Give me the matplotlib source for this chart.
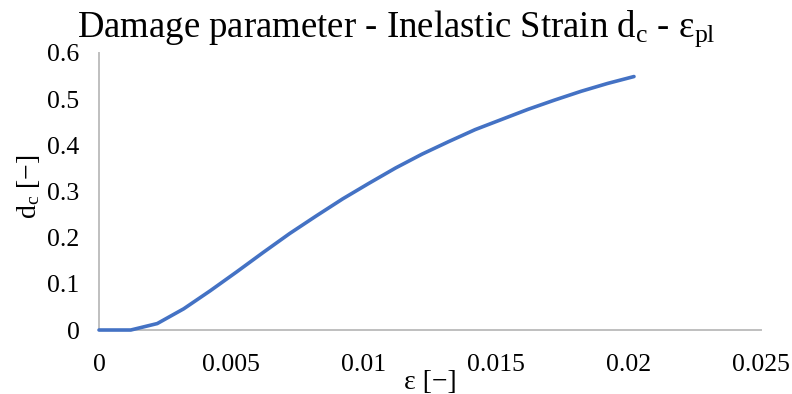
import matplotlib
matplotlib.use("Agg")
import matplotlib.pyplot as plt

plt.rcParams['font.family'] = ['Liberation Serif', 'DejaVu Serif']
plt.rcParams['mathtext.fontset'] = 'custom'
plt.rcParams['mathtext.rm'] = 'Liberation Serif'
plt.rcParams['mathtext.it'] = 'Liberation Serif:italic'

# strain vs damage values
strain = [0, 0.0012, 0.0022, 0.0032, 0.0042, 0.0052, 0.0062, 0.0072, 0.0082, 0.0092, 0.0102,
          0.0112, 0.0122, 0.0132, 0.0142, 0.0152, 0.0162, 0.0172, 0.0182, 0.0192, 0.0202]
damage = [0, 0, 0.014, 0.046, 0.085, 0.126, 0.168, 0.209, 0.247, 0.284, 0.318,
          0.351, 0.381, 0.408, 0.434, 0.456, 0.478, 0.498, 0.517, 0.534, 0.549]
x_ticks = [0, 0.005, 0.01, 0.015, 0.02, 0.025]
y_ticks = [0, 0.1, 0.2, 0.3, 0.4, 0.5, 0.6]

fig = plt.figure(figsize=(7.92, 3.94), dpi=100)
ax = fig.add_axes([0.125, 0.1624, 0.836, 0.7031])

ax.plot(strain, damage, color='#4472C4', linewidth=2.6, solid_capstyle='round',
        zorder=3, clip_on=False)

ax.set_xlim(0, 0.025)
ax.set_ylim(0, 0.6)
ax.set_xticks(x_ticks)
ax.set_xticklabels([f"{v:g}" for v in x_ticks])
ax.set_yticks(y_ticks)
ax.set_yticklabels([f"{v:g}" for v in y_ticks])
ax.tick_params(length=0, labelsize=18.5)
ax.tick_params(axis='x', pad=17)
ax.tick_params(axis='y', pad=14)

for side in ['top', 'right']:
    ax.spines[side].set_visible(False)
for side in ['left', 'bottom']:
    ax.spines[side].set_color('#BFBFBF')
    ax.spines[side].set_linewidth(1.4)

ax.set_xlabel('ε [−]', fontsize=20)
ax.xaxis.label.set_va('center')
ax.xaxis.set_label_coords(0.5, -0.188)

ax.set_ylabel(r'$\mathregular{d_c}$ [−]', fontsize=20)
ax.yaxis.label.set_va('center')
ax.yaxis.set_label_coords(-0.106, 0.516)

fig.text(0.5, 0.906, r'Damage parameter - Inelastic Strain $\mathregular{d_c}$ - $\mathregular{ε_{pl}}$',
         ha='center', va='baseline', fontsize=26.5)

fig.savefig('out.png', dpi=100)
